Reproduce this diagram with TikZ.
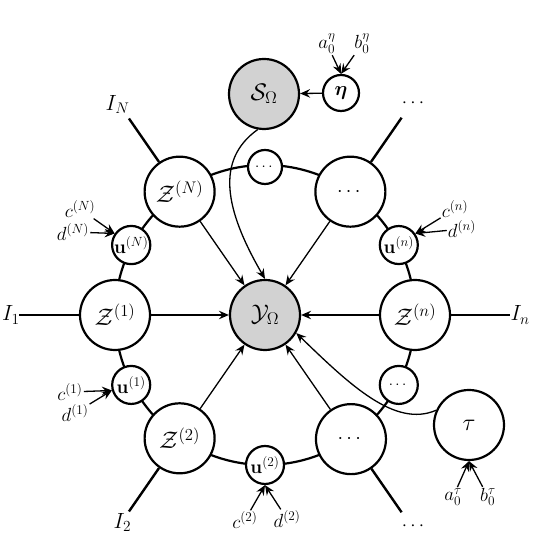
\RequirePackage{fix-cm}
\documentclass[tikz,border=0pt]{standalone}
\usepackage{amsmath,amssymb,bm}
\usetikzlibrary{arrows.meta,calc}
\begin{document}
\begin{tikzpicture}[x=1pt,y=1pt,font=\fontsize{19}{22}\selectfont]
\tikzset{
  bignode/.style={circle,draw,line width=2.2pt,fill=white,minimum size=70pt,inner sep=0pt,font=\fontsize{24}{28}\selectfont},
  obsnode/.style={bignode,fill=gray!35},
  smallnode/.style={circle,draw,line width=2.2pt,fill=white,minimum size=38pt,inner sep=0pt,font=\fontsize{19}{22}\selectfont},
  arr/.style={line width=1.3pt,-{Stealth[length=10pt,width=8.5pt,inset=3.5pt]}},
  radial/.style={line width=2.4pt},
  lab/.style={inner sep=1pt},
  outlab/.style={inner sep=1pt,font=\fontsize{22}{26}\selectfont}
}
\useasboundingbox (0,0) rectangle (536,534);
\coordinate (C) at (265,219);
% ring
\draw[line width=2.2pt] (C) circle (150pt);
% central and top nodes
\node[obsnode] (Y) at (C) {$\mathcal{Y}_{\Omega}$};
\node[obsnode] (S) at (264,440) {$\mathcal{S}_{\Omega}$};
\node[smallnode,minimum size=36pt,font=\fontsize{20}{24}\selectfont] (eta) at (341,441) {$\bm{\eta}$};
% ring nodes
\node[bignode] (Z1) at ($(C)+(180:150pt)$) {$\mathcal{Z}^{(1)}$};
\node[bignode] (ZN) at ($(C)+(124.7:150pt)$) {$\mathcal{Z}^{(N)}$};
\node[bignode,font=\fontsize{20}{24}\selectfont] (TR) at ($(C)+(55.3:150pt)$) {$\cdots$};
\node[bignode] (Zn) at ($(C)+(0:150pt)$) {$\mathcal{Z}^{(n)}$};
\node[bignode,font=\fontsize{20}{24}\selectfont] (BR) at ($(C)+(-55.3:151pt)$) {$\cdots$};
\node[bignode] (Z2) at ($(C)+(-124.7:150pt)$) {$\mathcal{Z}^{(2)}$};
\node[smallnode,minimum size=34pt,font=\fontsize{15}{18}\selectfont] (TD) at ($(C)+(90:148pt)$) {$\cdots$};
\node[smallnode] (uN) at ($(C)+(152.4:151pt)$) {$\mathbf{u}^{(N)}$};
\node[smallnode] (un) at ($(C)+(27.6:151pt)$) {$\mathbf{u}^{(n)}$};
\node[smallnode] (u1) at ($(C)+(-152.4:151pt)$) {$\mathbf{u}^{(1)}$};
\node[smallnode,font=\fontsize{15}{18}\selectfont] (RD) at ($(C)+(-27.6:151pt)$) {$\cdots$};
\node[smallnode] (u2) at ($(C)+(-90:150pt)$) {$\mathbf{u}^{(2)}$};
\node[bignode] (tau) at (469,109) {$\tau$};
% radial lines and outer labels
\coordinate (eN) at ($(C)+(124.7:239pt)$);
\coordinate (e1) at ($(C)+(180:246pt)$);
\coordinate (en) at ($(C)+(0:245pt)$);
\coordinate (e2) at ($(C)+(-124.7:239pt)$);
\coordinate (eTR) at ($(C)+(55.3:240pt)$);
\coordinate (eBR) at ($(C)+(-55.3:240pt)$);
\draw[radial] (ZN) -- (eN);
\draw[radial] (Z1) -- (e1);
\draw[radial] (Zn) -- (en);
\draw[radial] (Z2) -- (e2);
\draw[radial] (TR) -- (eTR);
\draw[radial] (BR) -- (eBR);
\node[outlab] (IN) at ($(C)+(125:257pt)$) {$I_N$};
\node[outlab] (I1) at ($(C)+(180:254pt)$) {$I_1$};
\node[outlab] (In) at ($(C)+(0:255pt)$) {$I_n$};
\node[outlab] (I2) at ($(C)+(-124.5:252pt)$) {$I_2$};
\node[lab] (TRl) at ($(C)+(54.7:259pt)$) {$\cdots$};
\node[lab] (BRl) at ($(C)+(-54.7:259pt)$) {$\cdots$};
% arrows into Y
\foreach \n in {ZN,TR,Z1,Zn,Z2,BR} \draw[arr] (\n) -- (Y);
\draw[arr] (eta) -- (S);
\draw[arr] (S.260) .. controls (215,374) and (225,324) .. (Y.north);
\draw[arr] (tau.156) .. controls (395,106) and (350,149) .. (Y.-30);
% hyperparameters
\node[lab] (cN) at (80,325) {$c^{(N)}$};
\node[lab] (dN) at (73,302) {$d^{(N)}$};
\draw[arr] (cN) -- (uN.145);
\draw[arr] (dN) -- (uN.145);
\node[lab] (cn) at (455,325) {$c^{(n)}$};
\node[lab] (dn) at (462,305) {$d^{(n)}$};
\draw[arr] (cn) -- (un.35);
\draw[arr] (dn) -- (un.35);
\node[lab] (c1) at (70,142) {$c^{(1)}$};
\node[lab] (d1) at (75,121) {$d^{(1)}$};
\draw[arr] (c1) -- (u1.196);
\draw[arr] (d1) -- (u1.196);
\node[lab] (c2) at (245,14) {$c^{(2)}$};
\node[lab] (d2) at (287,15) {$d^{(2)}$};
\draw[arr] (c2) -- (u2.south);
\draw[arr] (d2) -- (u2.south);
\node[lab] (ae) at (327,490) {$a_0^{\eta}$};
\node[lab] (be) at (362,490) {$b_0^{\eta}$};
\draw[arr] (ae) -- (eta.north);
\draw[arr] (be) -- (eta.north);
\node[lab] (at) at (453,37) {$a_0^{\tau}$};
\node[lab] (bt) at (488,37) {$b_0^{\tau}$};
\draw[arr] (at) -- (tau.south);
\draw[arr] (bt) -- (tau.south);
\end{tikzpicture}
\end{document}
